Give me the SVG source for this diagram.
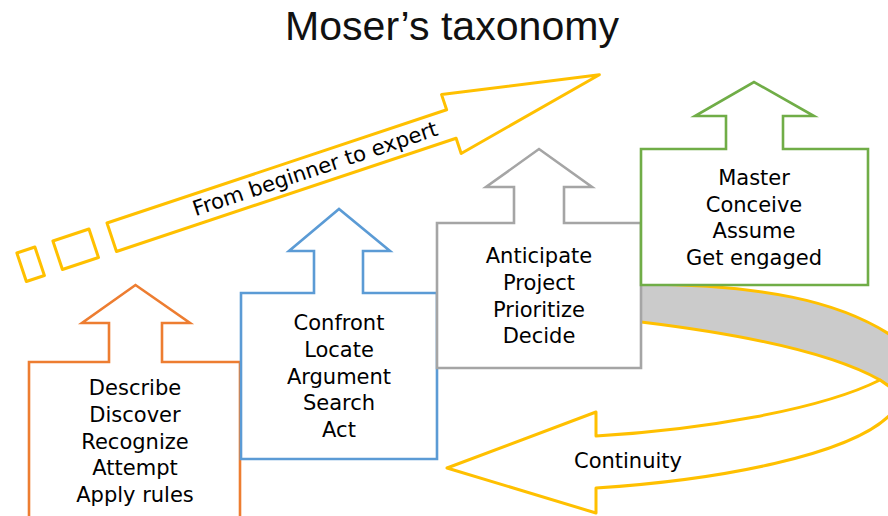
<svg xmlns="http://www.w3.org/2000/svg" width="888" height="516" viewBox="0 0 888 516">
<style>
.t{font-family:"DejaVu Sans","Liberation Sans",sans-serif;font-size:21px;fill:#000;text-anchor:middle}
.box{fill:#fff;stroke-width:2.6;stroke-linejoin:miter}
.yel{stroke:#FFC000;stroke-width:3;stroke-linejoin:round}
</style>
<rect width="888" height="516" fill="#fff"/>
<text x="452" y="40" font-family="Liberation Sans, Arial, sans-serif" font-size="40" text-anchor="middle" textLength="334" lengthAdjust="spacingAndGlyphs" fill="#111">Moser’s taxonomy</text>

<g id="connectors">
  <path id="loop-back" class="yel" fill="#CBCBCB" d="M620,284 L641,284 C760,285 840,300 895,338 L905,346 L905,398 L900,394 L880,380 C830,352 740,334 641,322 L620,322 Z"/>
  <g id="progress-arrow" transform="translate(107,223) rotate(-18.435)">
    <rect class="yel" fill="#fff" x="-95" y="0" width="19" height="30"/>
    <rect class="yel" fill="#fff" x="-57" y="0" width="38" height="30"/>
    <path class="yel" fill="#fff" d="M0,0 L358,0 L358,-16 L514,15 L358,46 L358,30 L0,30 Z"/>
    <text class="t" x="214.5" y="21.5" textLength="257" lengthAdjust="spacingAndGlyphs">From beginner to expert</text>
  </g>
</g>

<g id="node-orange">
  <path class="box" stroke="#ED7D31" d="M29,530 L29,362 L109,362 L109,323 L82,323 L135.5,285 L190,323 L162,323 L162,362 L240,362 L240,530"/>
  <text class="t" x="135" y="395">Describe</text>
  <text class="t" x="135" y="422">Discover</text>
  <text class="t" x="135" y="449">Recognize</text>
  <text class="t" x="135" y="475">Attempt</text>
  <text class="t" x="135" y="502">Apply rules</text>
</g>

<g id="node-blue">
  <path class="box" stroke="#5B9BD5" d="M241,459 L241,293 L314,293 L314,251 L289,251 L339,209 L390,251 L363,251 L363,293 L437,293 L437,459 Z"/>
  <text class="t" x="339" y="330">Confront</text>
  <text class="t" x="339" y="357">Locate</text>
  <text class="t" x="339" y="384">Argument</text>
  <text class="t" x="339" y="410">Search</text>
  <text class="t" x="339" y="437">Act</text>
</g>

<g id="node-gray">
  <path class="box" stroke="#A5A5A5" d="M437,368 L437,223 L514,223 L514,187 L486,187 L539,149 L592,187 L564,187 L564,223 L641,223 L641,368 Z"/>
  <text class="t" x="539" y="263">Anticipate</text>
  <text class="t" x="539" y="290">Project</text>
  <text class="t" x="539" y="317">Prioritize</text>
  <text class="t" x="539" y="343">Decide</text>
</g>

<g id="node-green">
  <path class="box" stroke="#70AD47" d="M641,285 L641,149 L726,149 L726,116 L695,116 L754,82 L814,116 L783,116 L783,149 L868,149 L868,285 Z"/>
  <text class="t" x="754" y="185">Master</text>
  <text class="t" x="754" y="212">Conceive</text>
  <text class="t" x="754" y="238">Assume</text>
  <text class="t" x="754" y="265">Get engaged</text>
</g>

<g id="node-continuity">
  <path class="yel" fill="#fff" d="M596,436 C700,430 820,410 880,380 L900,394 L905,398 L905,408 L890,415 C850,455 720,480 596,488 L596,513 L447,468 L596,412 Z"/>
  <text class="t" x="628" y="468">Continuity</text>
</g>
</svg>
